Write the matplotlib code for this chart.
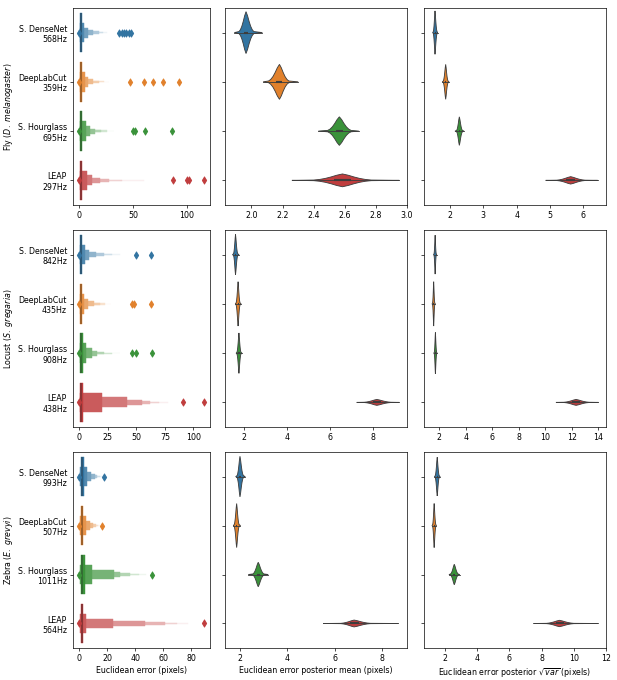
import numpy as np
import matplotlib.pyplot as plt
import matplotlib.colors as mcolors
from matplotlib.patches import Rectangle, Polygon

plt.rcParams["font.size"] = 9.2

methods = ["S. DenseNet", "DeepLabCut", "S. Hourglass", "LEAP"]
colors = ["#3274a1", "#e1812c", "#3a923a", "#c03d3e"]
gray = "#3d3d3d"

species = [r"Fly ($\mathit{D.\ melanogaster}$)",
           r"Locust ($\mathit{S.\ gregaria}$)",
           r"Zebra ($\mathit{E.\ grevyi}$)"]
rates = [[568, 359, 695, 297], [842, 435, 908, 438], [993, 507, 1011, 564]]

# letter-value (boxen) summaries of the euclidean error, innermost level first
fly_median = [1.6, 1.8, 2.0, 1.6]
fly_upper = [[2.6, 4.5, 8, 13, 18, 22, 26],
             [2.8, 5, 8.5, 13, 18, 23, 28],
             [3.0, 6, 10, 15, 20, 26, 32],
             [3.0, 7.5, 12, 19, 28, 40, 60]]
fly_lower = [0.9, 0.5, 0.3, 0.18, 0.1, 0.06, 0.03]
fly_outliers = [[0.02, 37, 40, 42, 44, 46, 48],
                [0.02, 47, 60, 69, 78, 93],
                [0.02, 50, 52, 61, 86],
                [0.02, 87, 100, 102, 116]]

locust_median = [1.5, 1.5, 1.6, 1.6]
locust_upper = [[2.6, 5, 9, 15, 22, 29, 36],
                [2.5, 4.5, 8, 13, 18, 23, 28],
                [3.0, 6, 11, 16, 22, 29, 36],
                [3.0, 20, 42, 55, 62, 70, 78]]
locust_lower = [0.8, 0.45, 0.28, 0.16, 0.1, 0.06, 0.03]
locust_outliers = [[0.02, 50, 63],
                   [0.02, 46.5, 48, 63],
                   [0.02, 46, 50, 64],
                   [0.02, 91, 109]]

zebra_median = [2.0, 1.8, 2.0, 2.0]
zebra_upper = [[3.5, 5.3, 8.4, 11, 13, 15, 16],
               [3.0, 5, 7.5, 10, 12, 13.5, 15],
               [4.0, 9, 25, 29, 36, 43, 48],
               [3.0, 5, 24, 47, 61, 70, 78]]
zebra_lower = [1.0, 0.6, 0.35, 0.2, 0.12, 0.07, 0.03]
zebra_outliers = [[0.02, 17.5], [0.02, 16], [0.02, 52], [0.02, 89]]

# violins: (centre, body low, body high, tail low, tail high, peak width)
fly_mean = [(1.965, 1.92, 2.015, 1.89, 2.07, 0.85),
            (2.18, 2.11, 2.24, 2.075, 2.30, 0.71),
            (2.565, 2.49, 2.64, 2.43, 2.69, 0.58),
            (2.585, 2.40, 2.77, 2.26, 2.95, 0.26)]
locust_mean = [(1.59, 1.50, 1.69, 1.45, 1.75, 0.82),
               (1.71, 1.62, 1.80, 1.58, 1.85, 0.90),
               (1.75, 1.66, 1.84, 1.62, 1.89, 0.82),
               (8.19, 7.6, 8.85, 7.25, 9.23, 0.12)]
zebra_mean = [(2.0, 1.88, 2.14, 1.82, 2.22, 0.83),
              (1.86, 1.76, 1.96, 1.72, 2.02, 0.90),
              (2.77, 2.55, 3.0, 2.35, 3.19, 0.50),
              (6.81, 6.25, 7.5, 5.51, 8.67, 0.14)]

fly_std = [(1.55, 1.50, 1.61, 1.48, 1.63, 0.88),
           (1.87, 1.80, 1.94, 1.77, 1.97, 0.71),
           (2.28, 2.20, 2.37, 2.15, 2.42, 0.58),
           (5.62, 5.2, 6.05, 4.87, 6.43, 0.15)]
locust_std = [(1.68, 1.60, 1.76, 1.56, 1.80, 0.79),
              (1.57, 1.49, 1.65, 1.45, 1.69, 0.90),
              (1.70, 1.62, 1.79, 1.58, 1.83, 0.84),
              (12.32, 11.4, 13.3, 10.8, 14.0, 0.12)]
zebra_std = [(1.52, 1.40, 1.64, 1.35, 1.70, 0.79),
             (1.33, 1.24, 1.43, 1.20, 1.47, 0.90),
             (2.58, 2.35, 2.82, 2.25, 2.92, 0.42),
             (9.11, 8.3, 10.0, 7.5, 11.5, 0.13)]

boxen_data = [(fly_median, fly_lower, fly_upper, fly_outliers),
              (locust_median, locust_lower, locust_upper, locust_outliers),
              (zebra_median, zebra_lower, zebra_upper, zebra_outliers)]
mean_data = [fly_mean, locust_mean, zebra_mean]
std_data = [fly_std, locust_std, zebra_std]

left_ticks = [[0, 50, 100], [0, 25, 50, 75, 100], [0, 20, 40, 60, 80]]
mean_ticks = [[2.0, 2.2, 2.4, 2.6, 2.8, 3.0], [2, 4, 6, 8], [2, 4, 6, 8]]
mean_lims = [(1.83, 3.0), (1.10, 9.6), (1.37, 9.04)]
std_ticks = [[2, 3, 4, 5, 6], [2, 4, 6, 8, 10, 12, 14], [2, 4, 6, 8, 10, 12]]
std_lims = [(1.22, 6.68), (0.84, 14.58), (0.70, 12.0)]

# violin outline shape (fraction of body half-range -> fraction of peak width)
PROF_T = [0, 0.2, 0.4, 0.6, 0.8, 1.0]
PROF_W = [1.0, 0.8, 0.53, 0.3, 0.14, 0.05]


def boxen(ax, pos, med, lower, upper, outl, color):
    k = len(upper)
    base = np.array(mcolors.to_rgb(color))
    for i in range(k - 1, -1, -1):
        h = 0.8 * 0.5 ** i
        c = base + (1 - base) * (0.92 * i / (k - 1))
        ax.add_patch(Rectangle((lower[i], pos - h / 2), upper[i] - lower[i], h,
                               fc=c, ec=c, lw=0.5))
    ax.plot([med, med], [pos - 0.4, pos + 0.4], color=".15", alpha=0.45,
            lw=1.8, solid_capstyle="butt")
    ax.scatter(outl, [pos] * len(outl), marker="d", color=color, s=36, zorder=3)


def violin(ax, pos, v, color):
    c, blo, bhi, lo, hi, w = v
    xs = [lo] + [c - t * (c - blo) for t in PROF_T[::-1]] + \
         [c + t * (bhi - c) for t in PROF_T[1:]] + [hi]
    hw = [0] + PROF_W[::-1] + PROF_W[1:] + [0]
    top = [(x, pos - f * w / 2) for x, f in zip(xs, hw)]
    bot = [(x, pos + f * w / 2) for x, f in zip(xs[::-1], hw[::-1])]
    ax.add_patch(Polygon(top + bot, closed=True, fc=color, ec=gray, lw=1.0))
    ax.plot([lo, hi], [pos, pos], color=gray, lw=1.0, zorder=3)
    ax.plot([c - 0.3 * (c - blo), c + 0.3 * (bhi - c)], [pos, pos], color=gray,
            lw=2.5, solid_capstyle="butt", zorder=3)


fig = plt.figure(figsize=(10, 11.022))
cols = [(0.1183, 0.222), (0.3647, 0.295), (0.6872, 0.295)]
rows = [(0.6985, 0.2897), (0.372, 0.2897), (0.0471, 0.288)]

for r in range(3):
    bottom, height = rows[r]
    axes = [fig.add_axes([cols[c][0], bottom, cols[c][1], height]) for c in range(3)]
    med, low, up, outl = boxen_data[r]
    for j in range(4):
        boxen(axes[0], j, med[j], low, up[j], outl[j], colors[j])
        violin(axes[1], j, mean_data[r][j], colors[j])
        violin(axes[2], j, std_data[r][j], colors[j])

    axes[0].autoscale_view()
    axes[0].set_xticks(left_ticks[r])
    axes[0].set_yticks(range(4))
    axes[0].set_yticklabels([f"{m}\n{h}Hz" for m, h in zip(methods, rates[r])])
    axes[0].set_ylabel(species[r], labelpad=3)

    axes[1].set_xlim(*mean_lims[r])
    axes[1].set_xticks(mean_ticks[r])
    axes[2].set_xlim(*std_lims[r])
    axes[2].set_xticks(std_ticks[r])
    for ax in axes[1:]:
        ax.set_yticks(range(4))
        ax.set_yticklabels([])
    for ax in axes:
        ax.set_ylim(3.5, -0.5)

    if r == 2:
        axes[0].set_xlabel("Euclidean error (pixels)")
        axes[1].set_xlabel("Euclidean error posterior mean (pixels)")
        axes[2].set_xlabel(r"Euclidean error posterior $\sqrt{var}$ (pixels)")

fig.savefig("out.png", dpi=61.7)
